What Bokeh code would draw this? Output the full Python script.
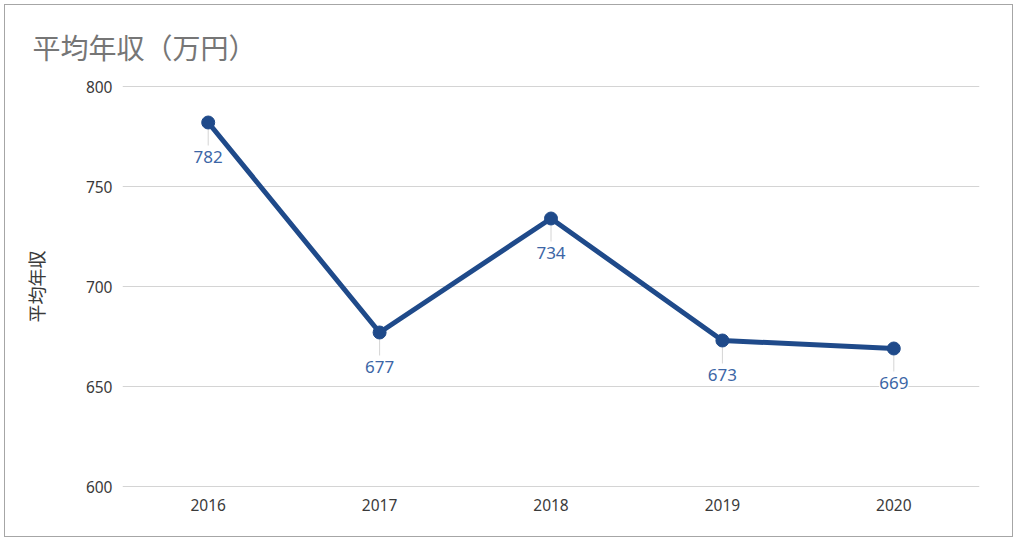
from bokeh.plotting import figure
from bokeh.models import FactorRange, Range1d, ColumnDataSource
from bokeh.embed import file_html
from bokeh.resources import INLINE
from bokeh.core.properties import value

years = ["2016", "2017", "2018", "2019", "2020"]
salary = [782, 677, 734, 673, 669]
y_ticks = [600, 650, 700, 750, 800]
title_text = "平均年収（万円）"
y_title = "平均年収"

LINE = "#1f4a8a"
LABEL = "#3c66a6"
GRID = "#d4d4d4"
TXT = "#3a3a3a"

src = ColumnDataSource(dict(
    x=years, y=salary, lbl=[str(v) for v in salary],
    y0=[v - 3.5 for v in salary], y1=[v - 11.5 for v in salary],
))

p = figure(width=1009, height=533, output_backend="svg", toolbar_location=None,
           x_range=FactorRange(*years, range_padding=0), y_range=Range1d(599.5, 800.5),
           min_border_left=117, min_border_right=35, min_border_top=80, min_border_bottom=51)
p.styles = {"border": "1px solid #a6a6a6", "margin-left": "4px", "margin-top": "4px"}
p.outline_line_color = None
p.background_fill_color = "white"
p.border_fill_color = "white"

p.title.text = title_text
p.title.text_font = "Noto Sans CJK JP"
p.title.text_font_size = "28px"
p.title.text_font_style = "normal"
p.title.text_color = "#767676"
p.title.align = "left"
p.title.offset = -90
p.title.standoff = 38

p.xgrid.grid_line_color = None
p.ygrid.grid_line_color = GRID
p.ygrid.grid_line_width = 1
p.yaxis.ticker = y_ticks
for ax in (p.xaxis[0], p.yaxis[0]):
    ax.axis_line_color = None
    ax.major_tick_line_color = None
    ax.minor_tick_line_color = None
    ax.major_label_text_font = "Noto Sans"
    ax.major_label_text_font_size = "15.5px"
    ax.major_label_text_color = TXT
p.yaxis.major_label_standoff = 4
p.xaxis.major_label_standoff = 5
p.yaxis.axis_label = y_title
p.yaxis.axis_label_text_font = "Noto Sans CJK JP"
p.yaxis.axis_label_text_font_size = "18px"
p.yaxis.axis_label_text_font_style = "normal"
p.yaxis.axis_label_text_color = TXT
p.yaxis.axis_label_standoff = 34

p.segment(x0="x", y0="y0", x1="x", y1="y1", source=src, line_color=GRID, line_width=1)
p.line("x", "y", source=src, line_color=LINE, line_width=5)
p.scatter("x", "y", source=src, size=13, fill_color=LINE, line_color=LINE)
p.text("x", "y", text="lbl", source=src, y_offset=34, text_align="center",
       text_baseline="middle", text_font=value("Noto Sans"), text_font_size="17px",
       text_color=LABEL, background_fill_color="white")

open("out.html", "w").write(file_html(p, INLINE))
